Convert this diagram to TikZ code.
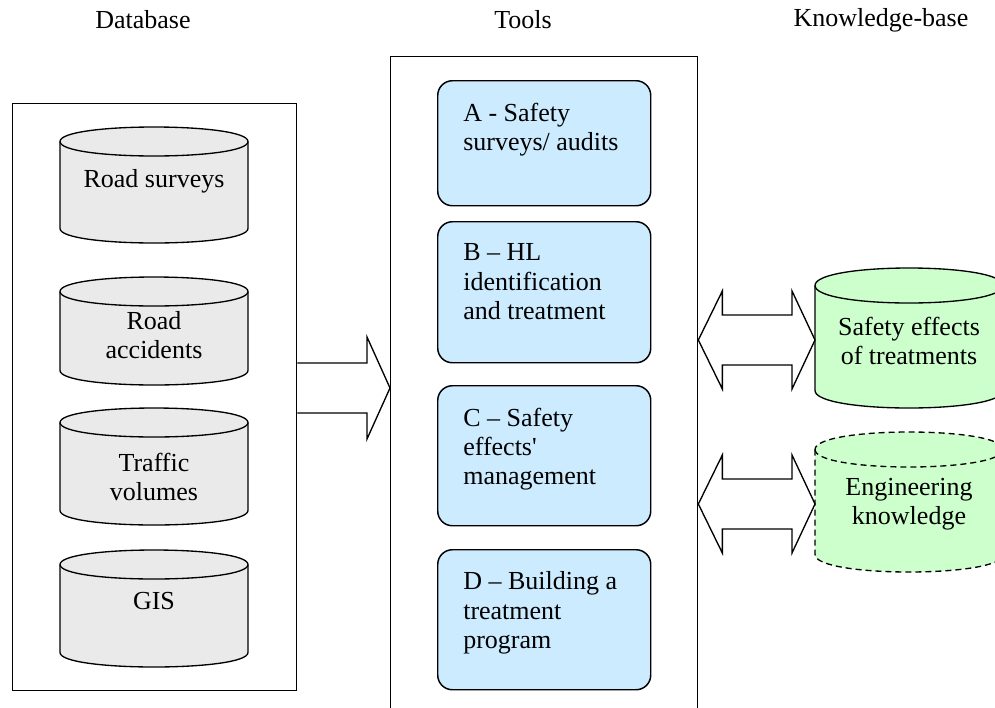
\documentclass[tikz,border=0pt]{standalone}
\usepackage{fontspec}
\setmainfont{Liberation Serif}
\usetikzlibrary{calc}
\definecolor{dbgrey}{HTML}{EAEAEA}
\definecolor{toolblue}{HTML}{CCEBFF}
\definecolor{kbgreen}{HTML}{CCFFCC}
\newcommand\straightquote{\XeTeXglyph\XeTeXcharglyph"0027\relax}
\newcommand\cylpath[6]{%
  \path[#6] (#1,{#2+#5}) -- (#1,{#4-#5})
     .. controls (#1,{#4+#5/3}) and (#3,{#4+#5/3}) .. (#3,{#4-#5})
     -- (#3,{#2+#5})
     .. controls (#3,{#2-#5/3}) and (#1,{#2-#5/3}) .. (#1,{#2+#5}) -- cycle;
  \path[#6] (#1,{#2+#5}) .. controls (#1,{#2+7*#5/3}) and (#3,{#2+7*#5/3}) .. (#3,{#2+#5});
}
\tikzset{
  txt/.style={font=\fontsize{19.5}{22}\selectfont, inner sep=0pt},
  outerbox/.style={draw, line width=1pt, fill=none, inner sep=0pt, anchor=north west},
  toolbox/.style={draw, line width=1.1pt, fill=toolblue, rounded corners=11pt, inner sep=0pt, anchor=north west},
  greycyl/.style={draw, line width=1pt, fill=dbgrey},
  greencyl/.style={draw, line width=1pt, fill=kbgreen},
  greendash/.style={draw, line width=1pt, fill=kbgreen, dash pattern=on 4.5pt off 3pt},
  blockarrow/.style={draw, line width=1pt, fill=white, line join=miter},
  toolstxt/.style={txt, anchor=north west, align=left},
}
\begin{document}
\begin{tikzpicture}[x=0.75pt, y=-0.75pt]
\useasboundingbox (0,0) rectangle (995,707);
\clip (0,0) rectangle (995,707);

% titles
\node[txt] (tdb) at (143,20) {Database};
\node[txt] (ttools) at (523,20) {Tools};
\node[txt] (tkb) at (881,20) {Knowledge-base};

% outer boxes
\node[outerbox, minimum width={284*0.75pt}, minimum height={587*0.75pt}] (lbox) at (12,103) {};
\node[outerbox, minimum width={307*0.75pt}, minimum height={680*0.75pt}] (mbox) at (390,56) {};

% database cylinders
\cylpath{60}{127}{248}{243}{14.5}{greycyl}
\node[txt] (c1) at (154,181) {Road surveys};
\cylpath{60}{277}{248}{385}{14.5}{greycyl}
\node[txt, align=center] (c2) at (154,335) {Road\\accidents};
\cylpath{60}{408}{248}{525}{14.5}{greycyl}
\node[txt, align=center] (c3) at (154,477) {Traffic\\volumes};
\cylpath{60}{550}{248}{667}{14.5}{greycyl}
\node[txt] (c4) at (154,601) {GIS};

% tool boxes
\node[toolbox, minimum width={213*0.75pt}, minimum height={125*0.75pt}] (ba) at (437,80) {};
\node[toolstxt] (ta) at (463,102.5) {A - Safety\\surveys/ audits};
\node[toolbox, minimum width={213*0.75pt}, minimum height={141*0.75pt}] (bb) at (437,221) {};
\node[toolstxt] (tb) at (463,243.5) {B – HL\\identification\\and treatment};
\node[toolbox, minimum width={213*0.75pt}, minimum height={140*0.75pt}] (bc) at (437,385) {};
\node[toolstxt] (tc) at (463,407.5) {C – Safety\\effects\straightquote\\management};
\node[toolbox, minimum width={213*0.75pt}, minimum height={140*0.75pt}] (bd) at (437,549) {};
\node[toolstxt] (td) at (463,571.5) {D – Building a\\treatment\\program};

% knowledge-base cylinders
\cylpath{815}{268}{1003}{408}{17.5}{greencyl}
\node[txt, align=center] (k1) at (909,341) {Safety effects\\of treatments};
\cylpath{815}{432}{1003}{572}{17.5}{greendash}
\node[txt, align=center] (k2) at (909,504) {Engineering\\knowledge};
\coordinate (k1w) at (815,340);
\coordinate (k2w) at (815,504);

% block arrow database -> tools
\coordinate (la) at (lbox.east |- 0,388);
\coordinate (lb) at (mbox.west |- 0,388);
\path[blockarrow] ($(la)+(0,-25)$) -- ($(lb)+(-23,-25)$) -- ($(lb)+(-23,-51)$) -- (lb)
  -- ($(lb)+(-23,51)$) -- ($(lb)+(-23,25)$) -- ($(la)+(0,25)$);

% double arrows tools <-> knowledge base
\coordinate (m1) at (mbox.east |- k1w);
\path[blockarrow] (m1) -- ($(m1)+(24,-49)$) -- ($(m1)+(24,-25)$) -- ($(k1w)+(-23,-25)$)
  -- ($(k1w)+(-23,-49)$) -- (k1w) -- ($(k1w)+(-23,49)$) -- ($(k1w)+(-23,25)$)
  -- ($(m1)+(24,25)$) -- ($(m1)+(24,49)$) -- cycle;
\coordinate (m2) at (mbox.east |- k2w);
\path[blockarrow] (m2) -- ($(m2)+(24,-49)$) -- ($(m2)+(24,-25)$) -- ($(k2w)+(-23,-25)$)
  -- ($(k2w)+(-23,-49)$) -- (k2w) -- ($(k2w)+(-23,49)$) -- ($(k2w)+(-23,25)$)
  -- ($(m2)+(24,25)$) -- ($(m2)+(24,49)$) -- cycle;
\end{tikzpicture}
\end{document}
